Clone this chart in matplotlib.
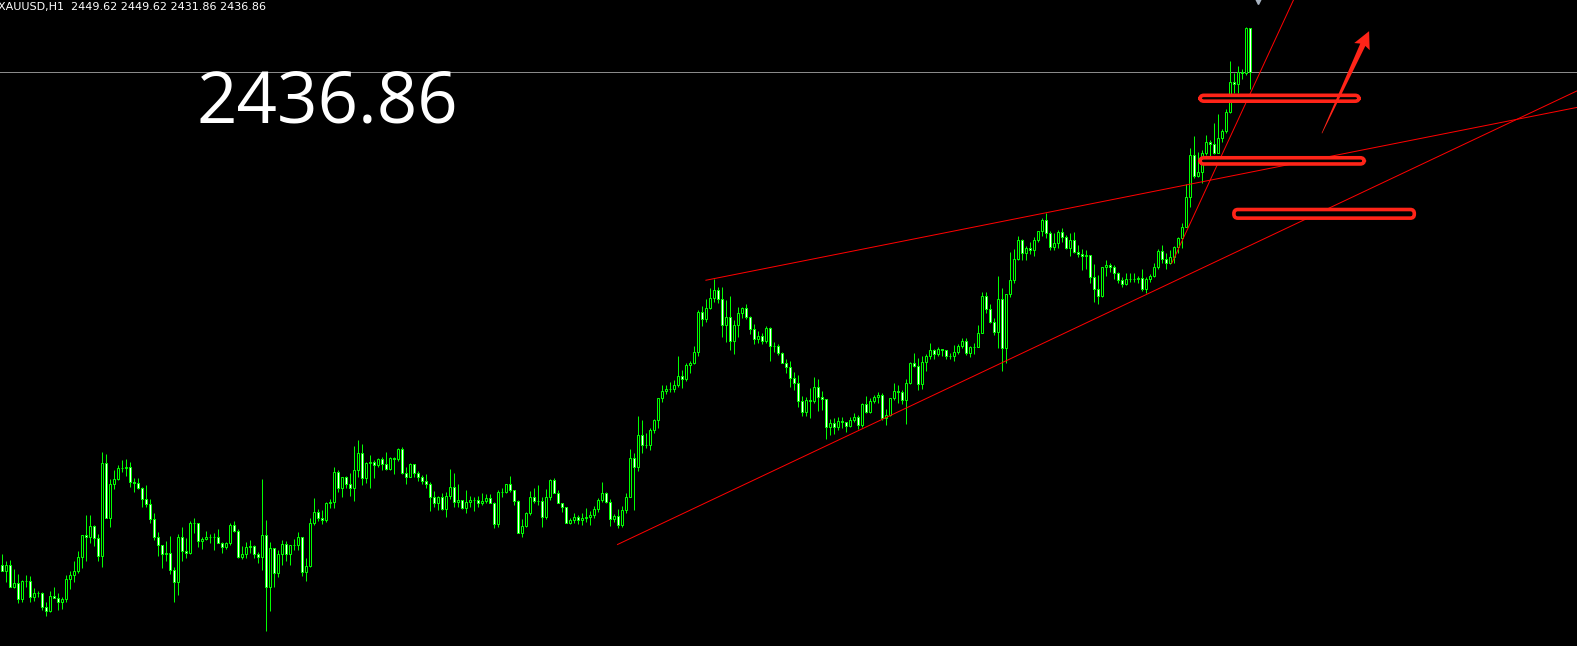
import numpy as np
import matplotlib
matplotlib.use("Agg")
import matplotlib.pyplot as plt
from matplotlib.patches import FancyBboxPatch, Polygon
from matplotlib.transforms import IdentityTransform

# ── data: XAUUSD H1, one value per bar ─────────────────────────────────────────
symbol = "XAUUSD,H1"
last_ohlc = [2449.62, 2449.62, 2431.86, 2436.86]
first_open = 2294.0

close = [
    2292.3, 2294.0, 2287.7, 2288.7, 2284.0, 2289.3, 2289.3, 2284.6, 2285.8, 2285.8,
    2281.7, 2280.7, 2285.1, 2284.5, 2283.3, 2284.1, 2289.8, 2291.0, 2292.2, 2296.2,
    2302.6, 2302.0, 2305.2, 2301.7, 2296.7, 2323.4, 2307.5, 2317.3, 2318.9, 2322.0,
    2322.2, 2322.3, 2318.1, 2317.6, 2316.2, 2313.0, 2311.5, 2307.2, 2302.0, 2299.8,
    2297.1, 2297.3, 2292.5, 2289.1, 2302.0, 2298.0, 2297.5, 2306.0, 2306.0, 2300.9,
    2301.5, 2302.0, 2302.0, 2302.0, 2300.4, 2299.1, 2300.2, 2305.5, 2303.9, 2296.2,
    2297.1, 2299.1, 2299.5, 2297.1, 2296.2, 2302.6, 2287.5, 2298.8, 2291.6, 2297.2,
    2300.0, 2297.1, 2299.7, 2299.8, 2302.2, 2291.8, 2293.7, 2306.2, 2309.3, 2307.5,
    2307.0, 2311.8, 2312.2, 2320.8, 2316.4, 2319.4, 2317.4, 2316.2, 2321.5, 2326.3,
    2319.1, 2323.4, 2323.7, 2322.8, 2324.6, 2323.1, 2321.8, 2324.9, 2324.6, 2327.5,
    2320.7, 2319.6, 2323.2, 2320.7, 2319.6, 2318.4, 2317.4, 2313.8, 2311.8, 2313.6,
    2310.2, 2314.1, 2316.5, 2312.1, 2312.8, 2310.4, 2312.1, 2312.8, 2312.8, 2311.8,
    2312.5, 2313.3, 2312.0, 2305.8, 2315.0, 2315.0, 2317.4, 2315.7, 2312.6, 2303.3,
    2305.3, 2308.9, 2313.6, 2312.6, 2312.6, 2308.0, 2313.6, 2318.6, 2314.9, 2311.8,
    2310.7, 2306.2, 2307.0, 2308.0, 2307.0, 2307.5, 2307.8, 2308.5, 2310.1, 2312.8,
    2314.7, 2312.3, 2307.2, 2308.3, 2305.6, 2309.9, 2313.8, 2324.9, 2322.5, 2331.6,
    2328.6, 2328.8, 2333.1, 2336.0, 2342.3, 2344.4, 2344.9, 2344.9, 2346.1, 2348.7,
    2347.8, 2351.9, 2352.4, 2355.6, 2367.4, 2365.2, 2368.4, 2371.3, 2373.6, 2371.0,
    2363.4, 2365.7, 2359.0, 2363.4, 2366.9, 2368.4, 2365.9, 2362.3, 2359.4, 2360.2,
    2359.0, 2362.6, 2357.5, 2357.5, 2355.3, 2352.6, 2351.3, 2348.1, 2346.8, 2341.6,
    2338.4, 2341.8, 2341.6, 2345.5, 2342.6, 2342.0, 2334.1, 2335.0, 2334.1, 2335.8,
    2335.5, 2334.3, 2336.0, 2337.0, 2334.5, 2340.6, 2338.4, 2341.6, 2342.8, 2343.2,
    2336.5, 2337.4, 2342.3, 2344.4, 2344.2, 2341.8, 2346.6, 2352.4, 2351.6, 2346.4,
    2352.7, 2354.5, 2356.3, 2355.1, 2356.5, 2356.3, 2354.4, 2354.5, 2355.8, 2357.4,
    2358.9, 2355.5, 2357.1, 2357.2, 2361.1, 2371.9, 2368.1, 2364.5, 2361.4, 2371.0,
    2356.8, 2372.4, 2376.6, 2382.6, 2388.2, 2384.3, 2385.8, 2385.3, 2388.2, 2390.8,
    2394.0, 2390.3, 2386.2, 2387.4, 2390.6, 2389.1, 2385.9, 2388.2, 2384.8, 2384.1,
    2383.5, 2383.8, 2377.5, 2373.9, 2371.9, 2380.2, 2380.9, 2380.2, 2378.5, 2376.6,
    2375.3, 2377.0, 2376.8, 2376.8, 2377.2, 2373.9, 2377.0, 2377.7, 2380.2, 2385.0,
    2382.6, 2381.4, 2383.1, 2386.2, 2388.6, 2392.0, 2400.5, 2412.8, 2406.8, 2408.0,
    2413.3, 2416.6, 2415.9, 2413.5, 2417.6, 2419.8, 2425.2, 2434.1, 2433.3, 2437.0,
    2436.5, 2449.62, 2436.86,
]

high = [
    2297.2, 2295.1, 2295.4, 2292.7, 2291.3, 2289.6, 2291.0, 2290.8, 2287.2, 2286.4,
    2286.1, 2283.3, 2286.4, 2287.7, 2285.8, 2284.8, 2291.0, 2292.2, 2295.1, 2298.0,
    2302.7, 2308.5, 2308.5, 2305.5, 2303.0, 2326.6, 2326.1, 2318.9, 2321.5, 2323.0,
    2324.4, 2324.6, 2323.7, 2319.1, 2319.1, 2316.7, 2317.2, 2313.1, 2308.9, 2303.6,
    2299.8, 2300.9, 2302.4, 2293.5, 2303.0, 2305.1, 2301.9, 2306.8, 2307.5, 2306.0,
    2302.2, 2303.8, 2302.9, 2303.2, 2304.4, 2300.7, 2300.5, 2306.2, 2306.8, 2304.5,
    2299.5, 2300.6, 2301.2, 2299.8, 2297.8, 2318.8, 2307.0, 2300.7, 2296.9, 2298.3,
    2301.2, 2300.9, 2299.7, 2301.5, 2303.6, 2300.9, 2295.9, 2307.5, 2313.3, 2310.1,
    2309.9, 2312.3, 2313.2, 2322.5, 2321.5, 2319.6, 2319.8, 2320.5, 2328.5, 2330.2,
    2329.0, 2323.9, 2325.8, 2324.4, 2324.9, 2325.4, 2326.8, 2325.2, 2325.2, 2327.8,
    2328.1, 2322.5, 2323.6, 2323.2, 2321.3, 2320.0, 2320.3, 2318.1, 2315.4, 2314.0,
    2314.7, 2315.2, 2321.7, 2320.5, 2317.4, 2312.8, 2315.7, 2314.0, 2313.6, 2314.0,
    2314.9, 2314.5, 2314.5, 2312.3, 2315.7, 2316.2, 2317.4, 2319.8, 2315.7, 2312.8,
    2307.2, 2309.4, 2315.5, 2316.2, 2317.1, 2313.8, 2315.9, 2318.8, 2319.1, 2315.7,
    2311.8, 2310.7, 2307.5, 2308.9, 2308.5, 2308.9, 2310.4, 2309.7, 2311.1, 2313.3,
    2318.1, 2315.2, 2313.0, 2308.8, 2310.1, 2311.1, 2314.7, 2327.6, 2326.3, 2337.2,
    2336.0, 2332.1, 2333.6, 2336.2, 2342.5, 2346.0, 2346.1, 2347.1, 2347.6, 2354.5,
    2350.5, 2352.4, 2353.1, 2357.4, 2367.9, 2369.0, 2371.1, 2374.2, 2376.8, 2374.4,
    2374.4, 2370.8, 2371.9, 2365.0, 2368.7, 2368.8, 2369.6, 2366.1, 2363.8, 2361.8,
    2361.1, 2363.2, 2362.9, 2358.7, 2358.0, 2355.8, 2353.6, 2353.1, 2350.0, 2349.0,
    2342.9, 2342.6, 2345.2, 2348.4, 2347.8, 2344.5, 2342.0, 2336.2, 2336.5, 2337.0,
    2336.8, 2335.0, 2336.9, 2337.9, 2337.4, 2340.8, 2342.9, 2342.3, 2343.2, 2344.2,
    2343.7, 2339.1, 2342.3, 2346.8, 2346.1, 2344.7, 2347.8, 2352.9, 2355.3, 2353.9,
    2354.5, 2355.1, 2358.2, 2356.5, 2357.1, 2356.5, 2356.3, 2355.3, 2357.7, 2358.0,
    2359.7, 2359.7, 2357.5, 2358.2, 2363.5, 2373.1, 2373.1, 2369.6, 2365.5, 2377.7,
    2374.2, 2372.4, 2384.8, 2385.5, 2389.3, 2388.5, 2386.4, 2387.7, 2388.9, 2390.9,
    2394.4, 2396.1, 2390.8, 2390.1, 2391.1, 2391.5, 2389.6, 2390.1, 2390.4, 2386.7,
    2385.5, 2385.3, 2383.8, 2381.2, 2378.0, 2380.4, 2382.5, 2381.4, 2380.9, 2379.0,
    2377.3, 2378.5, 2378.5, 2378.5, 2377.7, 2379.9, 2377.5, 2378.2, 2381.4, 2385.5,
    2386.7, 2384.3, 2385.3, 2386.4, 2388.9, 2393.0, 2404.4, 2414.7, 2418.3, 2413.8,
    2414.2, 2418.6, 2417.2, 2422.2, 2424.7, 2420.2, 2426.0, 2440.0, 2436.5, 2438.6,
    2437.6, 2449.9, 2449.62,
]

low = [
    2292.3, 2289.1, 2287.7, 2287.2, 2282.9, 2283.1, 2287.7, 2283.3, 2283.6, 2284.6,
    2280.9, 2279.3, 2280.2, 2284.3, 2280.9, 2281.2, 2283.3, 2286.9, 2289.1, 2291.7,
    2293.0, 2295.2, 2300.4, 2299.6, 2295.2, 2293.3, 2307.5, 2304.9, 2315.9, 2318.6,
    2321.0, 2319.9, 2316.7, 2315.2, 2315.9, 2310.9, 2310.7, 2306.0, 2301.2, 2296.6,
    2293.0, 2295.2, 2291.3, 2283.1, 2285.3, 2295.1, 2295.9, 2297.2, 2303.1, 2299.3,
    2298.5, 2301.2, 2300.2, 2298.3, 2300.2, 2297.5, 2298.5, 2299.8, 2303.6, 2296.0,
    2295.6, 2295.9, 2297.3, 2296.0, 2294.4, 2292.5, 2274.9, 2280.7, 2287.7, 2290.6,
    2294.0, 2295.2, 2293.9, 2298.3, 2298.3, 2290.8, 2289.4, 2293.5, 2305.6, 2306.6,
    2305.9, 2306.5, 2310.4, 2310.4, 2315.2, 2313.6, 2316.2, 2314.0, 2312.6, 2319.6,
    2317.1, 2317.6, 2316.2, 2319.1, 2322.5, 2321.5, 2321.5, 2321.5, 2320.2, 2324.2,
    2320.3, 2317.4, 2319.4, 2319.4, 2318.3, 2317.4, 2316.2, 2309.7, 2310.7, 2309.9,
    2309.9, 2308.0, 2313.1, 2310.7, 2310.7, 2310.1, 2308.9, 2310.7, 2309.7, 2310.7,
    2311.4, 2311.8, 2311.8, 2304.6, 2305.1, 2313.6, 2314.9, 2315.2, 2311.4, 2303.3,
    2302.2, 2304.9, 2308.5, 2312.0, 2311.4, 2304.9, 2307.2, 2312.8, 2314.7, 2311.8,
    2309.4, 2306.0, 2305.9, 2306.0, 2305.9, 2305.6, 2306.5, 2305.6, 2307.5, 2309.4,
    2312.3, 2311.8, 2305.3, 2306.5, 2304.6, 2305.1, 2308.9, 2313.6, 2309.9, 2321.3,
    2326.3, 2327.8, 2327.3, 2332.1, 2333.6, 2341.3, 2343.5, 2344.2, 2344.2, 2345.6,
    2345.2, 2347.4, 2349.7, 2352.2, 2354.4, 2363.3, 2364.4, 2368.2, 2370.3, 2369.8,
    2360.1, 2358.7, 2356.3, 2355.0, 2360.1, 2365.5, 2365.2, 2360.9, 2358.0, 2358.4,
    2358.0, 2358.4, 2353.2, 2355.8, 2354.7, 2352.4, 2349.7, 2345.6, 2344.7, 2339.9,
    2337.2, 2337.2, 2336.7, 2340.8, 2338.7, 2338.9, 2330.5, 2331.5, 2332.0, 2333.0,
    2333.8, 2332.5, 2334.1, 2335.5, 2333.3, 2334.1, 2338.1, 2337.9, 2340.8, 2341.0,
    2336.0, 2334.5, 2337.2, 2341.8, 2341.0, 2340.6, 2334.8, 2346.4, 2351.3, 2344.7,
    2344.9, 2350.3, 2353.6, 2353.6, 2354.5, 2354.5, 2353.6, 2353.6, 2353.2, 2355.1,
    2356.8, 2354.8, 2354.2, 2355.1, 2357.1, 2361.1, 2366.9, 2364.0, 2360.6, 2356.8,
    2350.3, 2352.4, 2371.7, 2375.8, 2382.4, 2382.4, 2382.4, 2384.1, 2383.5, 2387.7,
    2389.3, 2388.6, 2385.3, 2385.3, 2385.8, 2387.7, 2385.5, 2383.5, 2384.3, 2383.3,
    2379.5, 2379.9, 2375.6, 2370.3, 2369.6, 2371.7, 2377.7, 2379.0, 2376.8, 2375.8,
    2374.6, 2375.1, 2376.1, 2376.1, 2375.6, 2373.5, 2372.9, 2376.1, 2377.3, 2379.9,
    2381.6, 2379.9, 2381.1, 2381.4, 2384.5, 2385.7, 2392.0, 2397.8, 2406.0, 2406.5,
    2404.6, 2412.8, 2411.8, 2413.1, 2415.7, 2416.7, 2419.3, 2425.1, 2430.9, 2430.7,
    2434.7, 2436.0, 2431.86,
]

# hand-drawn analysis objects, in (bar index, price)
trend_lines = [
    ((153.8, 2299.9), (393.7, 2431.4)),
    ((175.9, 2376.5), (393.7, 2426.6)),
    ((292.35, 2381.4), (330.0, 2475.8)),
]
zones = [
    (299.4, 339.2, 2428.4, 2430.1),
    (299.4, 340.5, 2410.2, 2412.0),
    (307.9, 353.0, 2394.5, 2397.0),
]
arrow_tail = (329.9, 2419.1)
arrow_tip = (341.7, 2448.7)

# ── candles ────────────────────────────────────────────────────────────────────
close = np.array(close)
high = np.array(high)
low = np.array(low)
opens = np.concatenate([[first_open], close[:-1]])
opens[-1] = last_ohlc[0]
high = np.maximum(high, np.maximum(opens, close))
low = np.minimum(low, np.minimum(opens, close))
idx = np.arange(len(close))

GREEN = "#00ff00"
PX = 0.72  # one pixel in points at 100 dpi

fig = plt.figure(figsize=(15.77, 6.46), dpi=100, facecolor="black")
ax = fig.add_axes([0, 0, 1, 1])
ax.set_facecolor("black")
ax.set_xlim(-0.575, 393.675)
ax.set_ylim(2270.48, 2457.73)
ax.axis("off")

ax.axhline(last_ohlc[3], color="#8a8a8a", lw=PX, zorder=1)

ax.vlines(idx, low, high, color=GREEN, lw=PX, zorder=2)
bull = close >= opens
body_lo = np.minimum(opens, close)
body_h = np.abs(close - opens)
ax.bar(idx[bull], body_h[bull], bottom=body_lo[bull], width=0.55,
       color="black", edgecolor=GREEN, linewidth=PX, zorder=3)
ax.bar(idx[~bull], body_h[~bull], bottom=body_lo[~bull], width=0.55,
       color="white", edgecolor=GREEN, linewidth=PX, zorder=3)

# trend lines
for (x0, y0), (x1, y1) in trend_lines:
    ax.plot([x0, x1], [y0, y1], color="#ff0000", lw=PX, zorder=4)

# support / resistance boxes
for x0, x1, y0, y1 in zones:
    box = FancyBboxPatch((x0, y0), x1 - x0, y1 - y0,
                         boxstyle="round,pad=0,rounding_size=1.0",
                         mutation_aspect=1.16,
                         facecolor="black", edgecolor="#ff2418",
                         lw=2.6, zorder=5)
    ax.add_patch(box)

# tapered arrow, built in pixel space
fig.canvas.draw()
p0 = ax.transData.transform(arrow_tail)
p1 = ax.transData.transform(arrow_tip)
u = (p1 - p0) / np.hypot(*(p1 - p0))
n = np.array([-u[1], u[0]])
base = p1 - u * 15
pts = [p0 + n * 0.3, base + n * 2.8, base + n * 8.5 - u * 2, p1,
       base - n * 8.5 - u * 2, base - n * 2.8, p0 - n * 0.3]
ax.add_patch(Polygon(pts, closed=True, transform=IdentityTransform(),
                     facecolor="#ff2418", edgecolor="none", zorder=6))

# little shift marker at top
ax.plot([1258 / 1577], [0.999], marker="v", ms=4, color="#a9b4c2",
        transform=ax.transAxes, clip_on=False, zorder=6)

# texts
fig.text(-0.0015, 0.9845,
         f"{symbol}  " + " ".join(f"{v:.2f}" for v in last_ohlc),
         color="white", fontsize=8, family="DejaVu Sans", va="baseline")
fig.text(0.1245, 0.811, f"{last_ohlc[3]:.2f}", color="white",
         fontsize=51, family="Open Sans", va="baseline")

fig.savefig("out.png", dpi=100, facecolor="black")
